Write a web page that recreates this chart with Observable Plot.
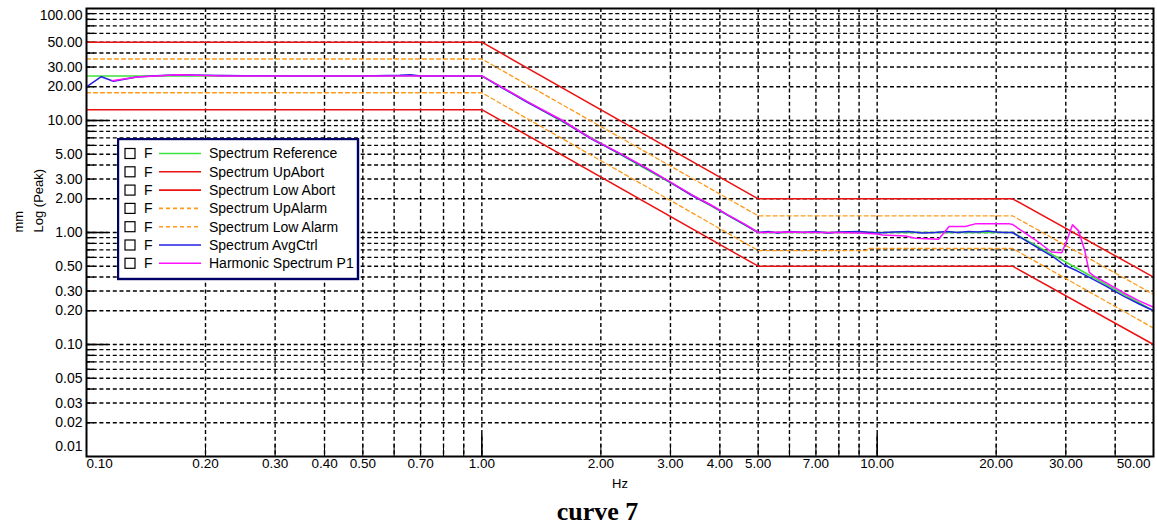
<!DOCTYPE html>
<html><head><meta charset="utf-8">
<script src="https://cdn.jsdelivr.net/npm/d3@7"></script>
<script src="https://cdn.jsdelivr.net/npm/@observablehq/plot@0.6"></script>
<style>
html,body{margin:0;padding:0;background:#fff;}
#wrap{position:relative;width:1157px;height:528px;font-family:"Liberation Sans",Arial,sans-serif;}
#title{position:absolute;left:0;top:498px;width:1157px;height:30px;text-align:center;font:bold 26px "Liberation Serif","Times New Roman",serif;line-height:28px;padding-left:38px;box-sizing:border-box;}
#legend{position:absolute;left:117px;top:138px;}
</style></head><body>
<div id="wrap"><div id="chart"></div><div id="legend"></div><div id="title">curve 7</div></div>
<script>
// ---- data (Hz, mm peak) ----
const refF = [0.1, 1, 5, 22, 50];
const refV = [25, 25, 1, 1, 0.2];
const upAbortF = [0.1, 1, 5, 22, 50];
const upAbortV = [50, 50, 2, 2, 0.4];
const lowAbortF = [0.1, 1, 5, 22, 50];
const lowAbortV = [12.5, 12.5, 0.5, 0.5, 0.1];
const upAlarmF = [0.1, 1, 5, 22, 50];
const upAlarmV = [35.4, 35.4, 1.41, 1.41, 0.28];
const lowAlarmF = [0.1, 1, 5, 9.4, 9.45, 22, 50];
const lowAlarmV = [17.7, 17.7, 0.69, 0.69, 0.72, 0.72, 0.14];
const avgF = [0.1, 0.109, 0.117, 0.134, 0.15, 0.17, 0.2, 0.25, 0.35, 0.5, 0.62, 0.66, 0.7, 0.85, 1.0,
  1.1, 1.3, 1.6, 1.9, 2.2, 2.6, 3.0, 3.4, 3.8, 4.2, 4.6, 5.0,
  5.3, 5.6, 6.0, 6.5, 7.0, 7.5, 8.0, 9.0, 10, 11, 12, 13, 14, 15, 16, 17, 18, 19, 20, 21, 22,
  24, 26, 28, 29.8, 32, 35, 38, 42, 46, 50];
const avgV = [20, 24.6, 22.4, 24.5, 25.1, 25.6, 25.4, 25.1, 25, 25, 25.3, 25.6, 25, 25, 25,
  20.5, 14.6, 9.9, 6.8, 5.2, 3.75, 2.8, 2.14, 1.75, 1.42, 1.19, 1.0,
  1.02, 0.99, 1.02, 1.0, 1.02, 0.99, 1.01, 1.02, 0.99, 1.01, 1.02, 0.99, 1.0, 1.02, 1.0, 1.02, 1.01, 1.03, 1.01, 1.0, 1.0,
  0.83, 0.7, 0.6, 0.51, 0.455, 0.385, 0.33, 0.27, 0.23, 0.2];
const harmF = [0.116, 0.134, 0.15, 0.17, 0.19, 0.22, 0.3, 0.5, 0.7, 1.0,
  1.1, 1.3, 1.6, 1.9, 2.2, 2.6, 3.0, 3.4, 3.8, 4.2, 4.6, 5.0,
  6, 7, 8, 9, 10, 10.3, 11.8, 12.5, 14.3, 15.2, 16.7, 17.8, 21.5, 22,
  25, 27.6, 29.3, 30.3, 31.2, 32.3, 33.5, 34.4, 35.3, 38, 42, 46, 50];
const harmV = [22.6, 24.4, 25.0, 25.6, 25.4, 25.0, 25, 25, 25, 25,
  20.7, 14.8, 10.0, 6.85, 5.25, 3.8, 2.82, 2.17, 1.76, 1.43, 1.2, 1.0,
  1.01, 1.0, 1.0, 0.99, 0.97, 0.95, 0.93, 0.89, 0.87, 1.13, 1.13, 1.2, 1.2, 1.18,
  0.87, 0.67, 0.66, 0.88, 1.17, 1.04, 0.69, 0.44, 0.41, 0.355, 0.29, 0.245, 0.215];

// ---- axes ----
const xTickLabels = [0.2, 0.3, 0.4, 0.5, 0.7, 1, 2, 3, 4, 5, 7, 10, 20, 30];
const yTickLabels = [0.02, 0.03, 0.05, 0.1, 0.2, 0.3, 0.5, 1, 2, 3, 5, 10, 20, 30, 50];
const xGrid = [0.2, 0.3, 0.4, 0.5, 0.6, 0.7, 0.8, 0.9, 1, 2, 3, 4, 5, 6, 7, 8, 9, 10, 20, 30, 40];
const yGrid = [0.02, 0.03, 0.04, 0.05, 0.06, 0.07, 0.08, 0.09, 0.1, 0.2, 0.3, 0.4, 0.5, 0.6, 0.7, 0.8, 0.9,
  1, 2, 3, 4, 5, 6, 7, 8, 9, 10, 20, 30, 40, 50, 60, 70, 80, 90];
const xMajor = [1, 10];
const yMajor = [0.1, 1, 10];

// ---- legend ----
const legendNames = ["Spectrum Reference", "Spectrum UpAbort", "Spectrum Low Abort", "Spectrum UpAlarm", "Spectrum Low Alarm", "Spectrum AvgCtrl", "Harmonic Spectrum P1"];
const legendColors = ["#3ee23e", "#ee1111", "#ee1111", "#ff9a1a", "#ff9a1a", "#2323e0", "#ff10ff"];
const legendDash = [null, null, null, "4,3", "4,3", null, null];

const rows = (F, V) => F.map((f, i) => ({f, v: V[i]}));
const fmt = d3.format(".2f");
const gridStyle = {stroke: "#000", strokeDasharray: "4,2.7", strokeWidth: 1.4};

const chart = Plot.plot({
  width: 1157, height: 498,
  marginLeft: 86, marginRight: 4, marginTop: 8, marginBottom: 42,
  style: {fontFamily: "'Liberation Sans', Arial, sans-serif", fontSize: "14px", background: "white", color: "black"},
  x: {type: "log", domain: [0.1, 50], axis: null},
  y: {type: "log", domain: [0.01, 100], axis: null},
  marks: [
    Plot.ruleY(yGrid, gridStyle),
    Plot.ruleX(xGrid, gridStyle),
    Plot.tickX(xGrid, {x: d => d, insetTop: 448 - 12, stroke: "black"}),
    Plot.tickX(xMajor, {x: d => d, insetTop: 448 - 22, stroke: "black", strokeWidth: 1.5}),
    Plot.tickY(yGrid, {y: d => d, insetRight: 1067 - 8, stroke: "black", strokeWidth: 1.4}),
    Plot.tickY(yMajor, {y: d => d, insetRight: 1067 - 22, stroke: "black", strokeWidth: 1.5}),
    Plot.line(rows(refF, refV), {x: "f", y: "v", stroke: legendColors[0], strokeWidth: 1.6}),
    Plot.line(rows(upAbortF, upAbortV), {x: "f", y: "v", stroke: legendColors[1], strokeWidth: 1.5}),
    Plot.line(rows(lowAbortF, lowAbortV), {x: "f", y: "v", stroke: legendColors[2], strokeWidth: 1.5}),
    Plot.line(rows(upAlarmF, upAlarmV), {x: "f", y: "v", stroke: legendColors[3], strokeWidth: 1.3, strokeDasharray: "4,3"}),
    Plot.line(rows(lowAlarmF, lowAlarmV), {x: "f", y: "v", stroke: legendColors[4], strokeWidth: 1.3, strokeDasharray: "4,3"}),
    Plot.line(rows(avgF, avgV), {x: "f", y: "v", stroke: legendColors[5], strokeWidth: 1.5}),
    Plot.line(rows(harmF, harmV), {x: "f", y: "v", stroke: legendColors[6], strokeWidth: 1.5}),
    Plot.frame({stroke: "black", strokeWidth: 2}),
    Plot.text(xTickLabels, {x: d => d, frameAnchor: "bottom", dy: 11, text: d => fmt(d), fontSize: 13.5}),
    Plot.text([0.1], {x: d => d, frameAnchor: "bottom", dy: 11, text: d => fmt(d), textAnchor: "start", fontSize: 13.5}),
    Plot.text([50], {x: d => d, frameAnchor: "bottom", dy: 11, dx: -3, text: d => fmt(d), textAnchor: "end", fontSize: 13.5}),
    Plot.text(yTickLabels, {y: d => d, frameAnchor: "left", dx: -4, text: d => fmt(d), textAnchor: "end"}),
    Plot.text([100], {y: d => d, frameAnchor: "left", dx: -4, dy: 7, text: d => fmt(d), textAnchor: "end"}),
    Plot.text([0.01], {y: d => d, frameAnchor: "left", dx: -4, dy: -10, text: d => fmt(d), textAnchor: "end"}),
    Plot.text(["Hz"], {frameAnchor: "bottom", dy: 31, text: d => d, fontSize: 13}),
    Plot.text(["mm"], {frameAnchor: "left", dx: -68, rotate: -90, text: d => d, fontSize: 13}),
    Plot.text(["Log (Peak)"], {frameAnchor: "left", dx: -48, rotate: -90, text: d => d, fontSize: 13})
  ]
});
document.getElementById("chart").appendChild(chart);

// legend box
const lg = d3.select("#legend").append("svg").attr("width", 243).attr("height", 143)
  .style("font-family", "'Liberation Sans', Arial, sans-serif").style("font-size", "14px");
lg.append("rect").attr("x", 1).attr("y", 1).attr("width", 240).attr("height", 140)
  .attr("fill", "white").attr("stroke", "#000066").attr("stroke-width", 2.4);
legendNames.forEach((name, i) => {
  const cy = 15.5 + i * 18.3;
  const g = lg.append("g");
  g.append("rect").attr("x", 8).attr("y", cy - 5).attr("width", 10).attr("height", 10)
    .attr("fill", "white").attr("stroke", "black").attr("stroke-width", 1.2);
  g.append("text").attr("x", 27).attr("y", cy).attr("dy", "0.35em").text("F");
  g.append("line").attr("x1", 42).attr("x2", 84).attr("y1", cy).attr("y2", cy)
    .attr("stroke", legendColors[i]).attr("stroke-width", 1.6)
    .attr("stroke-dasharray", legendDash[i]);
  g.append("text").attr("x", 92).attr("y", cy).attr("dy", "0.35em").text(name);
});
</script>
</body></html>
